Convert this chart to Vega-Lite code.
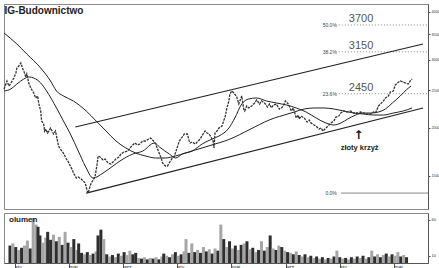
{
  "$schema": "https://vega.github.io/schema/vega-lite/v6.json",
  "padding": {"left": 0, "top": 3, "right": 3, "bottom": 0},
  "background": "white",
  "spacing": 2,
  "config": {
    "view": {"stroke": "#8a8a8a", "strokeWidth": 1},
    "font": "Liberation Sans",
    "axis": {"domainColor": "#555", "tickColor": "#555", "labelColor": "#333", "grid": false}
  },
  "datasets": {
    "price": [
      {"t":0,"p":2521},{"t":3,"p":2644},{"t":5,"p":2566},{"t":7,"p":2613},{"t":10,"p":2692},{"t":12,"p":2774},{"t":13,"p":2859},{"t":15,"p":2893},{"t":17,"p":2946},{"t":19,"p":2842},{"t":20,"p":2808},{"t":22,"p":2709},{"t":23,"p":2758},{"t":25,"p":2613},{"t":27,"p":2536},{"t":30,"p":2461},{"t":32,"p":2388},{"t":34,"p":2417},{"t":35,"p":2317},{"t":37,"p":2209},{"t":38,"p":2080},{"t":40,"p":2043},{"t":41,"p":1959},{"t":42,"p":1982},{"t":44,"p":1935},{"t":47,"p":1994},{"t":49,"p":1947},{"t":50,"p":1924},{"t":52,"p":1959},{"t":53,"p":1901},{"t":55,"p":1790},{"t":57,"p":1758},{"t":60,"p":1716},{"t":62,"p":1676},{"t":63,"p":1656},{"t":65,"p":1626},{"t":67,"p":1588},{"t":69,"p":1551},{"t":70,"p":1523},{"t":72,"p":1495},{"t":73,"p":1477},{"t":75,"p":1486},{"t":78,"p":1469},{"t":80,"p":1451},{"t":82,"p":1434},{"t":83,"p":1400},{"t":84,"p":1367},{"t":85,"p":1350},{"t":86,"p":1383},{"t":88,"p":1434},{"t":90,"p":1460},{"t":92,"p":1495},{"t":94,"p":1607},{"t":95,"p":1686},{"t":97,"p":1676},{"t":98,"p":1666},{"t":100,"p":1646},{"t":102,"p":1656},{"t":105,"p":1617},{"t":108,"p":1607},{"t":110,"p":1626},{"t":113,"p":1656},{"t":116,"p":1676},{"t":118,"p":1706},{"t":121,"p":1727},{"t":125,"p":1737},{"t":128,"p":1779},{"t":132,"p":1823},{"t":135,"p":1801},{"t":137,"p":1812},{"t":140,"p":1845},{"t":143,"p":1845},{"t":146,"p":1867},{"t":148,"p":1878},{"t":151,"p":1845},{"t":153,"p":1812},{"t":155,"p":1758},{"t":157,"p":1706},{"t":159,"p":1656},{"t":160,"p":1617},{"t":163,"p":1588},{"t":165,"p":1588},{"t":168,"p":1636},{"t":170,"p":1666},{"t":172,"p":1686},{"t":175,"p":1779},{"t":177,"p":1845},{"t":180,"p":1890},{"t":182,"p":1924},{"t":185,"p":1924},{"t":187,"p":1845},{"t":188,"p":1823},{"t":190,"p":1834},{"t":193,"p":1812},{"t":196,"p":1845},{"t":198,"p":1867},{"t":201,"p":1924},{"t":203,"p":1959},{"t":205,"p":1935},{"t":207,"p":1924},{"t":209,"p":1890},{"t":211,"p":1845},{"t":212,"p":1769},{"t":213,"p":1935},{"t":215,"p":1959},{"t":217,"p":1994},{"t":220,"p":2018},{"t":222,"p":2092},{"t":223,"p":2118},{"t":225,"p":2249},{"t":227,"p":2345},{"t":228,"p":2446},{"t":230,"p":2490},{"t":232,"p":2461},{"t":235,"p":2402},{"t":237,"p":2303},{"t":240,"p":2417},{"t":242,"p":2235},{"t":243,"p":2209},{"t":245,"p":2276},{"t":247,"p":2249},{"t":250,"p":2276},{"t":253,"p":2317},{"t":255,"p":2360},{"t":258,"p":2303},{"t":260,"p":2345},{"t":263,"p":2317},{"t":266,"p":2262},{"t":268,"p":2303},{"t":270,"p":2249},{"t":272,"p":2290},{"t":275,"p":2303},{"t":278,"p":2235},{"t":280,"p":2249},{"t":282,"p":2276},{"t":284,"p":2345},{"t":287,"p":2303},{"t":290,"p":2209},{"t":292,"p":2249},{"t":295,"p":2118},{"t":297,"p":2156},{"t":298,"p":2105},{"t":300,"p":2143},{"t":303,"p":2118},{"t":306,"p":2067},{"t":308,"p":2092},{"t":310,"p":2055},{"t":313,"p":2031},{"t":315,"p":2018},{"t":318,"p":1982},{"t":320,"p":1994},{"t":322,"p":1959},{"t":324,"p":1982},{"t":327,"p":2018},{"t":330,"p":2055},{"t":333,"p":2080},{"t":335,"p":2130},{"t":338,"p":2143},{"t":340,"p":2182},{"t":343,"p":2209},{"t":346,"p":2195},{"t":350,"p":2209},{"t":353,"p":2182},{"t":357,"p":2182},{"t":360,"p":2195},{"t":363,"p":2182},{"t":366,"p":2169},{"t":370,"p":2169},{"t":373,"p":2195},{"t":375,"p":2182},{"t":378,"p":2276},{"t":380,"p":2303},{"t":383,"p":2345},{"t":385,"p":2388},{"t":388,"p":2417},{"t":390,"p":2475},{"t":393,"p":2490},{"t":395,"p":2582},{"t":397,"p":2613},{"t":400,"p":2644},{"t":403,"p":2628},{"t":405,"p":2613},{"t":408,"p":2597},{"t":410,"p":2644},{"t":412,"p":2676}
    ],
    "maShort": [
      {"t":0,"p":2490},{"t":7,"p":2521},{"t":13,"p":2597},{"t":20,"p":2676},{"t":25,"p":2709},{"t":30,"p":2692},{"t":37,"p":2613},{"t":43,"p":2490},{"t":53,"p":2249},{"t":60,"p":2080},{"t":67,"p":1924},{"t":75,"p":1737},{"t":82,"p":1588},{"t":90,"p":1477},{"t":100,"p":1523},{"t":110,"p":1588},{"t":117,"p":1636},{"t":130,"p":1706},{"t":140,"p":1737},{"t":152,"p":1823},{"t":157,"p":1779},{"t":167,"p":1706},{"t":173,"p":1666},{"t":180,"p":1706},{"t":190,"p":1737},{"t":200,"p":1812},{"t":210,"p":1867},{"t":217,"p":1901},{"t":227,"p":1994},{"t":233,"p":2118},{"t":240,"p":2303},{"t":247,"p":2374},{"t":255,"p":2388},{"t":265,"p":2345},{"t":275,"p":2317},{"t":285,"p":2290},{"t":295,"p":2249},{"t":305,"p":2195},{"t":315,"p":2118},{"t":325,"p":2055},{"t":333,"p":2031},{"t":340,"p":2055},{"t":347,"p":2105},{"t":355,"p":2156},{"t":362,"p":2182},{"t":370,"p":2182},{"t":378,"p":2195},{"t":385,"p":2235},{"t":392,"p":2317},{"t":400,"p":2417},{"t":406,"p":2506},{"t":411,"p":2566}
    ],
    "maLong": [
      {"t":0,"p":3527},{"t":13,"p":3301},{"t":23,"p":3109},{"t":37,"p":2859},{"t":47,"p":2644},{"t":53,"p":2490},{"t":60,"p":2417},{"t":70,"p":2345},{"t":83,"p":2209},{"t":93,"p":2080},{"t":103,"p":1959},{"t":113,"p":1845},{"t":123,"p":1769},{"t":133,"p":1716},{"t":143,"p":1686},{"t":153,"p":1666},{"t":163,"p":1666},{"t":173,"p":1686},{"t":183,"p":1716},{"t":193,"p":1748},{"t":203,"p":1779},{"t":213,"p":1812},{"t":223,"p":1845},{"t":233,"p":1890},{"t":243,"p":1947},{"t":253,"p":2006},{"t":263,"p":2067},{"t":273,"p":2118},{"t":283,"p":2156},{"t":293,"p":2195},{"t":303,"p":2235},{"t":313,"p":2249},{"t":323,"p":2249},{"t":333,"p":2235},{"t":343,"p":2209},{"t":353,"p":2182},{"t":363,"p":2169},{"t":373,"p":2156},{"t":383,"p":2156},{"t":393,"p":2182},{"t":403,"p":2209},{"t":412,"p":2249}
    ],
    "trend": [
      {"line":"upper","t":72,"p":2007},{"line":"upper","t":423,"p":3301},
      {"line":"lower","t":83,"p":1350},{"line":"lower","t":423,"p":2249}
    ],
    "fib": [
      {"pct":"50.0%","val":"3700","p":3700,"t0":338,"t1":428},
      {"pct":"38.2%","val":"3150","p":3150,"t0":338,"t1":428},
      {"pct":"23.6%","val":"2450","p":2450,"t0":338,"t1":428}
    ],
    "fib0": [
      {"pct":"0.0%","p":1350,"t0":340,"t1":428}
    ],
    "notes": [
      {"t":0.5,"p":4196,"label":"IG-Budownictwo"}
    ],
    "arrow": [
      {"t":358,"p":1912,"label":"↑"}
    ],
    "cross": [
      {"t":359,"p":1769,"label":"złoty krzyż"}
    ],
    "volume": [
      {"t":1,"v":24,"c":"d"},{"t":4,"v":27,"c":"l"},{"t":7,"v":22,"c":"d"},{"t":10,"v":18,"c":"l"},{"t":13,"v":21,"c":"d"},{"t":16,"v":24,"c":"l"},{"t":19,"v":31,"c":"l"},{"t":22,"v":20,"c":"d"},{"t":25,"v":62,"c":"l"},{"t":28,"v":53,"c":"l"},{"t":30,"v":50,"c":"d"},{"t":32,"v":38,"c":"d"},{"t":35,"v":28,"c":"l"},{"t":38,"v":35,"c":"l"},{"t":40,"v":43,"c":"d"},{"t":43,"v":32,"c":"d"},{"t":46,"v":39,"c":"l"},{"t":49,"v":30,"c":"d"},{"t":52,"v":36,"c":"l"},{"t":55,"v":25,"c":"d"},{"t":58,"v":43,"c":"l"},{"t":61,"v":28,"c":"d"},{"t":64,"v":22,"c":"l"},{"t":67,"v":33,"c":"d"},{"t":70,"v":18,"c":"l"},{"t":72,"v":27,"c":"d"},{"t":75,"v":14,"c":"d"},{"t":78,"v":12,"c":"l"},{"t":81,"v":15,"c":"d"},{"t":84,"v":11,"c":"l"},{"t":87,"v":13,"c":"d"},{"t":90,"v":16,"c":"l"},{"t":92,"v":38,"c":"d"},{"t":95,"v":46,"c":"d"},{"t":98,"v":33,"c":"l"},{"t":101,"v":12,"c":"d"},{"t":104,"v":9,"c":"l"},{"t":107,"v":11,"c":"d"},{"t":110,"v":8,"c":"l"},{"t":113,"v":13,"c":"d"},{"t":116,"v":10,"c":"l"},{"t":119,"v":15,"c":"d"},{"t":122,"v":11,"c":"l"},{"t":125,"v":17,"c":"l"},{"t":128,"v":12,"c":"d"},{"t":131,"v":14,"c":"d"},{"t":134,"v":7,"c":"l"},{"t":137,"v":6,"c":"d"},{"t":140,"v":8,"c":"l"},{"t":143,"v":5,"c":"d"},{"t":146,"v":7,"c":"l"},{"t":149,"v":6,"c":"d"},{"t":152,"v":8,"c":"l"},{"t":155,"v":5,"c":"d"},{"t":158,"v":9,"c":"l"},{"t":160,"v":13,"c":"d"},{"t":163,"v":10,"c":"l"},{"t":166,"v":8,"c":"d"},{"t":169,"v":12,"c":"l"},{"t":172,"v":15,"c":"d"},{"t":175,"v":10,"c":"l"},{"t":178,"v":12,"c":"d"},{"t":181,"v":16,"c":"l"},{"t":183,"v":33,"c":"l"},{"t":186,"v":14,"c":"d"},{"t":189,"v":27,"c":"l"},{"t":192,"v":15,"c":"d"},{"t":195,"v":18,"c":"l"},{"t":198,"v":14,"c":"d"},{"t":201,"v":22,"c":"l"},{"t":204,"v":16,"c":"d"},{"t":207,"v":19,"c":"l"},{"t":210,"v":13,"c":"d"},{"t":213,"v":20,"c":"l"},{"t":216,"v":17,"c":"d"},{"t":219,"v":53,"c":"l"},{"t":222,"v":33,"c":"d"},{"t":225,"v":22,"c":"l"},{"t":228,"v":30,"c":"d"},{"t":231,"v":20,"c":"l"},{"t":234,"v":24,"c":"d"},{"t":237,"v":18,"c":"l"},{"t":240,"v":25,"c":"d"},{"t":243,"v":27,"c":"l"},{"t":246,"v":30,"c":"d"},{"t":249,"v":19,"c":"l"},{"t":252,"v":21,"c":"d"},{"t":255,"v":15,"c":"l"},{"t":258,"v":18,"c":"d"},{"t":261,"v":30,"c":"l"},{"t":264,"v":17,"c":"d"},{"t":267,"v":22,"c":"l"},{"t":270,"v":38,"c":"d"},{"t":273,"v":20,"c":"l"},{"t":276,"v":18,"c":"d"},{"t":279,"v":24,"c":"l"},{"t":282,"v":22,"c":"d"},{"t":285,"v":17,"c":"l"},{"t":288,"v":15,"c":"d"},{"t":291,"v":14,"c":"l"},{"t":294,"v":12,"c":"d"},{"t":297,"v":16,"c":"l"},{"t":300,"v":11,"c":"d"},{"t":303,"v":9,"c":"l"},{"t":306,"v":12,"c":"d"},{"t":309,"v":8,"c":"l"},{"t":312,"v":10,"c":"d"},{"t":315,"v":7,"c":"l"},{"t":318,"v":9,"c":"d"},{"t":321,"v":6,"c":"l"},{"t":324,"v":8,"c":"d"},{"t":327,"v":5,"c":"l"},{"t":330,"v":7,"c":"d"},{"t":333,"v":6,"c":"l"},{"t":336,"v":9,"c":"d"},{"t":339,"v":17,"c":"l"},{"t":342,"v":8,"c":"d"},{"t":345,"v":6,"c":"l"},{"t":348,"v":7,"c":"d"},{"t":351,"v":5,"c":"l"},{"t":354,"v":8,"c":"d"},{"t":357,"v":6,"c":"l"},{"t":360,"v":9,"c":"d"},{"t":363,"v":7,"c":"l"},{"t":366,"v":10,"c":"d"},{"t":369,"v":6,"c":"l"},{"t":372,"v":8,"c":"d"},{"t":375,"v":17,"c":"l"},{"t":378,"v":9,"c":"d"},{"t":381,"v":12,"c":"l"},{"t":384,"v":8,"c":"d"},{"t":387,"v":11,"c":"l"},{"t":390,"v":13,"c":"d"},{"t":393,"v":9,"c":"l"},{"t":396,"v":12,"c":"d"},{"t":399,"v":10,"c":"l"},{"t":402,"v":15,"c":"l"},{"t":405,"v":9,"c":"d"},{"t":408,"v":11,"c":"l"},{"t":411,"v":8,"c":"d"}
    ],
    "volLabel": [
      {"t":0,"v":69,"label":"olumen"}
    ]
  },
  "vconcat": [
    {
      "width": 424,
      "height": 205,
      "layer": [
        {
          "data": {"name": "fib"},
          "mark": {"type": "rule", "color": "#888", "strokeWidth": 1, "strokeDash": [1, 2]},
          "encoding": {
            "x": {"field": "t0", "type": "quantitative", "scale": {"domain": [0, 428], "nice": false, "zero": false}, "axis": null},
            "x2": {"field": "t1"},
            "y": {"field": "p", "type": "quantitative", "scale": {"type": "log", "domain": [1227, 4196], "nice": false}, "axis": {"orient": "right", "values": [1500, 2000, 2500, 3000, 3500, 4000], "labelFontSize": 3.8, "tickSize": 2, "title": null, "format": "d", "labelPadding": 1}}
          }
        },
        {
          "data": {"name": "fib0"},
          "mark": {"type": "rule", "color": "#888", "strokeWidth": 1},
          "encoding": {
            "x": {"field": "t0", "type": "quantitative", "scale": {"domain": [0, 428], "nice": false, "zero": false}},
            "x2": {"field": "t1"},
            "y": {"field": "p", "type": "quantitative", "scale": {"type": "log", "domain": [1227, 4196], "nice": false}}
          }
        },
        {
          "data": {"name": "trend"},
          "mark": {"type": "line", "color": "#222", "strokeWidth": 1.2},
          "encoding": {
            "x": {"field": "t", "type": "quantitative", "scale": {"domain": [0, 428], "nice": false, "zero": false}},
            "y": {"field": "p", "type": "quantitative", "scale": {"type": "log", "domain": [1227, 4196], "nice": false}},
            "detail": {"field": "line"}
          }
        },
        {
          "data": {"name": "maLong"},
          "mark": {"type": "line", "color": "#222", "strokeWidth": 1, "interpolate": "monotone"},
          "encoding": {
            "x": {"field": "t", "type": "quantitative", "scale": {"domain": [0, 428], "nice": false, "zero": false}},
            "y": {"field": "p", "type": "quantitative", "scale": {"type": "log", "domain": [1227, 4196], "nice": false}}
          }
        },
        {
          "data": {"name": "maShort"},
          "mark": {"type": "line", "color": "#222", "strokeWidth": 1, "interpolate": "monotone"},
          "encoding": {
            "x": {"field": "t", "type": "quantitative", "scale": {"domain": [0, 428], "nice": false, "zero": false}},
            "y": {"field": "p", "type": "quantitative", "scale": {"type": "log", "domain": [1227, 4196], "nice": false}}
          }
        },
        {
          "data": {"name": "price"},
          "mark": {"type": "line", "color": "#333", "strokeWidth": 1.3, "strokeDash": [2.5, 1]},
          "encoding": {
            "x": {"field": "t", "type": "quantitative", "scale": {"domain": [0, 428], "nice": false, "zero": false}},
            "y": {"field": "p", "type": "quantitative", "scale": {"type": "log", "domain": [1227, 4196], "nice": false}}
          }
        },
        {
          "data": {"name": "fib"},
          "mark": {"type": "text", "align": "right", "baseline": "middle", "fontSize": 5, "color": "#444", "dx": -2},
          "encoding": {
            "x": {"field": "t0", "type": "quantitative", "scale": {"domain": [0, 428], "nice": false, "zero": false}},
            "y": {"field": "p", "type": "quantitative", "scale": {"type": "log", "domain": [1227, 4196], "nice": false}},
            "text": {"field": "pct"}
          }
        },
        {
          "data": {"name": "fib0"},
          "mark": {"type": "text", "align": "right", "baseline": "middle", "fontSize": 5, "color": "#444", "dx": -4},
          "encoding": {
            "x": {"field": "t0", "type": "quantitative", "scale": {"domain": [0, 428], "nice": false, "zero": false}},
            "y": {"field": "p", "type": "quantitative", "scale": {"type": "log", "domain": [1227, 4196], "nice": false}},
            "text": {"field": "pct"}
          }
        },
        {
          "data": {"name": "fib"},
          "mark": {"type": "text", "align": "left", "baseline": "bottom", "fontSize": 11, "color": "#555", "dx": 10, "dy": -1},
          "encoding": {
            "x": {"field": "t0", "type": "quantitative", "scale": {"domain": [0, 428], "nice": false, "zero": false}},
            "y": {"field": "p", "type": "quantitative", "scale": {"type": "log", "domain": [1227, 4196], "nice": false}},
            "text": {"field": "val"}
          }
        },
        {
          "data": {"name": "notes"},
          "mark": {"type": "text", "align": "left", "baseline": "top", "fontSize": 10, "fontWeight": "bold", "color": "#222", "dy": 2},
          "encoding": {
            "x": {"field": "t", "type": "quantitative", "scale": {"domain": [0, 428], "nice": false, "zero": false}},
            "y": {"field": "p", "type": "quantitative", "scale": {"type": "log", "domain": [1227, 4196], "nice": false}},
            "text": {"field": "label"}
          }
        },
        {
          "data": {"name": "arrow"},
          "mark": {"type": "text", "align": "center", "baseline": "middle", "fontSize": 12, "fontWeight": "bold", "color": "#111", "font": "DejaVu Sans"},
          "encoding": {
            "x": {"field": "t", "type": "quantitative", "scale": {"domain": [0, 428], "nice": false, "zero": false}},
            "y": {"field": "p", "type": "quantitative", "scale": {"type": "log", "domain": [1227, 4196], "nice": false}},
            "text": {"field": "label"}
          }
        },
        {
          "data": {"name": "cross"},
          "mark": {"type": "text", "align": "center", "baseline": "middle", "fontSize": 7.5, "fontWeight": "bold", "color": "#222"},
          "encoding": {
            "x": {"field": "t", "type": "quantitative", "scale": {"domain": [0, 428], "nice": false, "zero": false}},
            "y": {"field": "p", "type": "quantitative", "scale": {"type": "log", "domain": [1227, 4196], "nice": false}},
            "text": {"field": "label"}
          }
        }
      ]
    },
    {
      "width": 424,
      "height": 50,
      "layer": [
        {
          "data": {"name": "volume"},
          "mark": {"type": "bar", "size": 3},
          "encoding": {
            "x": {"field": "t", "type": "quantitative", "scale": {"domain": [0, 428], "nice": false, "zero": false}, "axis": {"orient": "bottom", "values": [6, 20, 34, 48, 62, 76, 90, 104, 118, 132, 146, 160, 174, 188, 202, 216, 230, 244, 258, 272, 286, 300, 314, 328, 342, 356, 370, 384, 398, 412], "labelExpr": "['sty','lut','mar','kwi','maj','cze','lip','sie','wrz','paź','lis','gru'][floor(datum.value/14)%12]", "labelFontSize": 5, "tickSize": 7, "labelAlign": "left", "labelBaseline": "top", "labelPadding": -6, "labelDx": 1, "title": null, "labelOverlap": false, "labelFlush": false, "labelColor": "#222"}},
            "y": {"field": "v", "type": "quantitative", "scale": {"domain": [0, 69], "nice": false}, "axis": {"orient": "right", "values": [10, 20, 30, 40, 50, 60], "labelFontSize": 4, "tickSize": 2, "title": null, "labelPadding": 1}},
            "color": {"field": "c", "type": "nominal", "scale": {"domain": ["d", "l"], "range": ["#2e2e2e", "#a6a6a6"]}, "legend": null}
          }
        },
        {
          "data": {"name": "volLabel"},
          "mark": {"type": "text", "align": "left", "baseline": "top", "fontSize": 8, "fontWeight": "bold", "color": "#222", "dy": 3},
          "encoding": {
            "x": {"field": "t", "type": "quantitative", "scale": {"domain": [0, 428], "nice": false, "zero": false}},
            "y": {"field": "v", "type": "quantitative", "scale": {"domain": [0, 69], "nice": false}},
            "text": {"field": "label"}
          }
        }
      ]
    }
  ]
}
